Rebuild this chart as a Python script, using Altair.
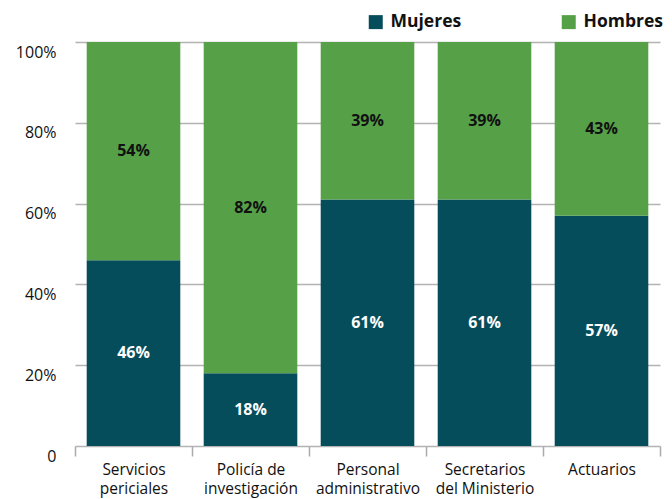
import json
import altair as alt
import pandas as pd

categories = ["Servicios periciales", "Policía de investigación", "Personal administrativo",
              "Secretarios del Ministerio", "Actuarios"]
label_lines = [["Servicios", "periciales"], ["Policía de", "investigación"],
               ["Personal", "administrativo"], ["Secretarios", "del Ministerio"], ["Actuarios"]]
mujeres = [46, 18, 61, 61, 57]
hombres = [54, 82, 39, 39, 43]
series = ["Mujeres", "Hombres"]
colors = ["#064d5b", "#56a048"]
y_ticks = [0, 20, 40, 60, 80, 100]

FONT = "Open Sans"

rows = []
for i, c in enumerate(categories):
    rows.append({"cat": c, "serie": "Mujeres", "value": mujeres[i], "order": 0})
    rows.append({"cat": c, "serie": "Hombres", "value": hombres[i], "order": 1})
df = pd.DataFrame(rows)

label_map = json.dumps(dict(zip(categories, label_lines)), ensure_ascii=False)

x_enc = alt.X(
    "cat:N", sort=categories, title=None,
    scale=alt.Scale(domain=categories, range=[58, 643], paddingInner=0, paddingOuter=0),
    axis=alt.Axis(labelAngle=0, tickBand="extent", tickSize=10, tickColor="#ababab",
                  tickWidth=1.5, domain=False, grid=False, labelPadding=6,
                  labelFontSize=15.5, labelLineHeight=19, labelColor="#111111",
                  labelFont=FONT, labelExpr=f"{label_map}[datum.value]"),
)

y_axis = alt.Axis(values=y_ticks, grid=True, gridColor="#b3b3b3", gridWidth=1.5,
                  domain=False, ticks=False, tickSize=0, labelAlign="right",
                  labelBaseline="top", labelPadding=-39, labelOffset=2,
                  labelFontSize=16, labelFont=FONT, labelColor="#111111",
                  labelFlush=False, labelOverlap=False, labelBound=False,
                  labelExpr="datum.value == 0 ? '0\u00a0\u00a0\u00a0' : datum.value + '%'")

bars = alt.Chart(df).mark_bar(width=alt.RelativeBandSize(0.8)).encode(
    x=x_enc,
    y=alt.Y("value:Q", stack="zero", title=None,
            scale=alt.Scale(domain=[0, 100], nice=False), axis=y_axis),
    color=alt.Color("serie:N", scale=alt.Scale(domain=series, range=colors),
                    legend=alt.Legend(title=None, orient="none", legendX=350, legendY=-29,
                                      direction="horizontal", symbolType="square",
                                      symbolSize=196, symbolStrokeWidth=0,
                                      labelFontSize=17.5, labelFontWeight="bold",
                                      labelFont=FONT, labelColor="#111111",
                                      columnPadding=98, labelOffset=6, padding=0)),
    order=alt.Order("order:Q"),
)

texts = alt.Chart(df).transform_stack(
    stack="value", groupby=["cat"], as_=["v0", "v1"], sort=[alt.SortField("order")]
).transform_calculate(
    mid="(datum.v0 + datum.v1) / 2", lbl="datum.value + '%'"
).mark_text(font=FONT, fontSize=16, fontWeight="bold", baseline="middle").encode(
    x=alt.X("cat:N", sort=categories),
    y=alt.Y("mid:Q"),
    text="lbl:N",
    color=alt.condition("datum.serie == 'Mujeres'", alt.value("white"), alt.value("#111111")),
)

chart = alt.layer(bars, texts).properties(
    width=643, height=404,
    autosize=alt.AutoSizeParams(type="none"),
    padding={"left": 9, "top": 34, "right": 4, "bottom": 58},
).configure_view(stroke=None)

chart.save("out.html", embed_options={"renderer": "svg", "actions": False})
